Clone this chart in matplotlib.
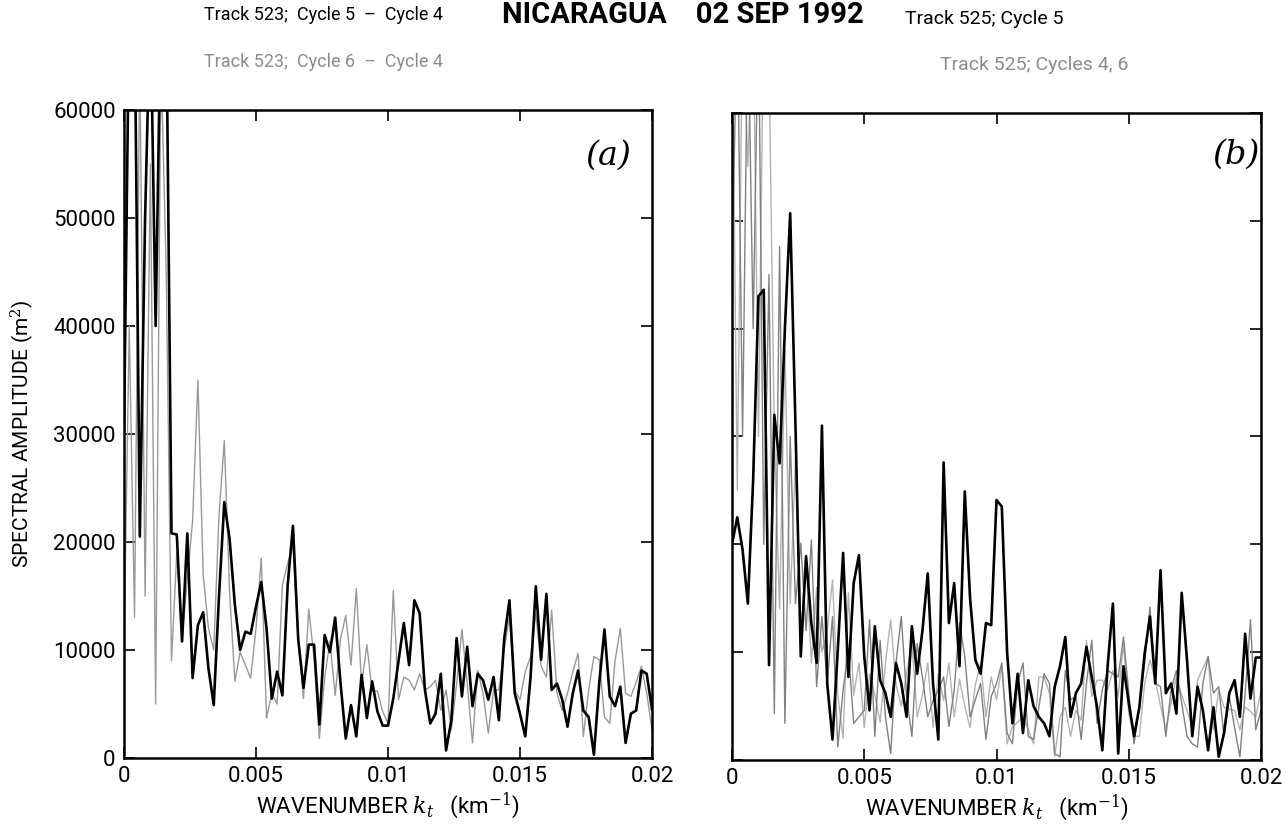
import numpy as np
import matplotlib
matplotlib.use("Agg")
import matplotlib.pyplot as plt
from matplotlib.ticker import FixedLocator

plt.rcParams["font.family"] = ["Roboto", "DejaVu Sans"]
plt.rcParams["mathtext.fontset"] = "dejavuserif"

# wavenumber grid (km^-1), one sample every 0.0002
k = np.arange(101) * 0.0002

# panel (a): Track 523
a_c5_c4 = [30000, 70000, 70000, 20500, 50000, 70000, 40000, 70000, 70000, 20800,
           20700, 10800, 20800, 7400, 12300, 13500, 8300, 4900, 15000, 23700,
           20300, 14200, 10000, 11700, 11500, 14000, 16300, 12000, 5500, 8000,
           5800, 16000, 21500, 11000, 6500, 10500, 10500, 3100, 11400, 9800,
           13000, 7000, 1800, 4900, 2000, 7700, 3700, 7100, 4300, 3000,
           3000, 5500, 9000, 12500, 8600, 14600, 13400, 6300, 3200, 4100,
           7800, 700, 3500, 11100, 5700, 10300, 4800, 7800, 7200, 5400,
           7500, 3500, 11000, 14600, 6000, 4100, 2000, 7500, 15900, 9100,
           15200, 6300, 6900, 5400, 2900, 6000, 8100, 4400, 3800, 300,
           6900, 11900, 5700, 4800, 6600, 1400, 4100, 4400, 8100, 7800,
           4500]
a_c6_c4 = [10000, 40000, 13000, 65000, 15000, 55000, 5000, 65000, 45000, 9000,
           19000, 11000, 16600, 22000, 35000, 17000, 12000, 10000, 22500, 29400,
           15400, 7100, 9800, 8600, 7400, 12000, 18500, 3700, 6000, 5000,
           16000, 18000, 19700, 11000, 5500, 13800, 9200, 1800, 7400, 10800,
           5800, 11000, 13200, 8600, 15700, 6800, 10500, 6200, 6200, 4300,
           3200, 15500, 5400, 7500, 7200, 6300, 7800, 6300, 6600, 7200,
           4400, 6300, 2600, 6900, 11900, 6900, 1400, 8100, 6000, 2300,
           6300, 6300, 10000, 13100, 6300, 5400, 8000, 9400, 13400, 8500,
           7500, 13700, 6000, 4400, 6000, 8000, 9700, 2000, 6300, 9400,
           9100, 3800, 3200, 9000, 12000, 6000, 5700, 7000, 8500, 6000,
           2600]

# panel (b): Track 525
b_c5 = [20000, 22500, 19500, 14500, 26000, 43000, 43600, 8800, 32000, 27500,
        40000, 50700, 31000, 9600, 18900, 12700, 9000, 31000, 7100, 1900,
        10200, 19200, 7700, 16400, 19000, 9600, 4600, 12400, 7400, 6200,
        4000, 9000, 7100, 4000, 12400, 8000, 12000, 17300, 7100, 1900,
        27600, 12700, 16400, 8700, 24900, 15000, 9300, 8000, 12700, 12500,
        24100, 23500, 10000, 3400, 8000, 2500, 7400, 5000, 4000, 3400,
        2200, 6800, 8700, 11400, 4000, 6200, 7100, 10500, 7700, 4900,
        900, 8700, 14500, 600, 8700, 5300, 2200, 4900, 9900, 13300,
        7100, 17600, 6200, 7100, 4300, 15500, 9300, 2200, 6800, 4600,
        900, 4900, 300, 2500, 6200, 7400, 4000, 11700, 5700, 9500,
        9500]
b_c4 = [45000, 70000, 30000, 70000, 40000, 70000, 20000, 45000, 4300, 47600,
        3400, 30000, 14500, 20100, 12000, 20400, 6800, 13300, 7100, 13300,
        1200, 6500, 10200, 3400, 4000, 4600, 13000, 2200, 11100, 4000,
        600, 9000, 13300, 5900, 2200, 10800, 7700, 4000, 5500, 6500,
        7700, 3100, 6500, 12700, 9600, 4000, 5600, 7100, 1900, 5900,
        7100, 9000, 2500, 1500, 7100, 9000, 2200, 1900, 4900, 8000,
        7100, 600, 300, 8300, 5600, 5900, 1900, 7100, 11100, 3400,
        6500, 8300, 8000, 7700, 11400, 6200, 1500, 4900, 9000, 14200,
        7100, 6800, 2200, 6500, 8300, 5300, 2200, 1500, 1200, 7100,
        9600, 6200, 6800, 2200, 5900, 3000, 300, 6200, 13000, 2800,
        4600]
b_c6 = [70000, 25000, 70000, 55000, 70000, 30000, 70000, 65000, 30000, 14000,
        38000, 14500, 28000, 11000, 19000, 9000, 16000, 10000, 12000, 16700,
        6000, 2000, 15500, 6000, 9000, 3000, 8000, 6000, 3500, 9000,
        13000, 7000, 5000, 8000, 11000, 4000, 6000, 9000, 3000, 8000,
        5500, 9000, 4000, 7500, 5000, 3000, 7000, 9000, 4000, 7700,
        5600, 8700, 1500, 3100, 3500, 4000, 2800, 1500, 7700, 7700,
        6200, 300, 4000, 4900, 2200, 4600, 3700, 11100, 5900, 7400,
        7400, 6500, 8300, 5900, 10800, 4300, 2200, 2200, 7100, 9300,
        7400, 5000, 2800, 5300, 7700, 6000, 4600, 3100, 7400, 8500,
        9600, 2800, 6500, 4900, 4700, 4600, 2800, 4900, 4500, 4000,
        6500]

xticks = [0, 0.005, 0.01, 0.015, 0.02]
xticklabels = ["0", "0.005", "0.01", "0.015", "0.02"]
yticks = [0, 10000, 20000, 30000, 40000, 50000, 60000]

fig = plt.figure(figsize=(12.86, 8.35), dpi=100)
ax_a = fig.add_axes([0.0964, 0.0922, 0.4106, 0.776])
ax_b = fig.add_axes([0.5692, 0.0898, 0.4114, 0.775])

ax_a.plot(k, a_c6_c4, color="0.6", lw=1.0)
ax_a.plot(k, a_c5_c4, color="black", lw=1.9)

ax_b.plot(k, b_c6, color="0.7", lw=1.0)
ax_b.plot(k, b_c4, color="0.5", lw=1.0)
ax_b.plot(k, b_c5, color="black", lw=1.9)

for ax in (ax_a, ax_b):
    ax.set_xlim(0, 0.02)
    ax.set_ylim(0, 60000)
    ax.xaxis.set_major_locator(FixedLocator(xticks))
    ax.yaxis.set_major_locator(FixedLocator(yticks))
    ax.tick_params(direction="in", top=True, right=True, length=8, width=1.2,
                   labelsize=16, pad=6)
    for s in ax.spines.values():
        s.set_linewidth(1.8)
    ax.set_xticklabels(xticklabels)
    ax.set_xlabel(r"WAVENUMBER $k_t$   (km$^{-1}$)", fontsize=16, labelpad=2)

ax_a.set_yticklabels([str(v) for v in yticks])
ax_b.set_yticklabels([])
ax_a.set_ylabel(r"SPECTRAL AMPLITUDE (m$^2$)", fontsize=15, labelpad=12)

ax_a.text(0.917, 0.93, "(a)", transform=ax_a.transAxes, fontsize=24,
          family="DejaVu Serif", style="italic", ha="center", va="center")
ax_b.text(0.953, 0.935, "(b)", transform=ax_b.transAxes, fontsize=24,
          family="DejaVu Serif", style="italic", ha="center", va="center")

fig.text(0.159, 0.982, "Track 523;  Cycle 5  –  Cycle 4", fontsize=13, va="center")
fig.text(0.531, 0.982, "NICARAGUA    02 SEP 1992", fontsize=21, weight="bold",
         ha="center", va="center")
fig.text(0.704, 0.977, "Track 525; Cycle 5", fontsize=14, va="center")
fig.text(0.159, 0.926, "Track 523;  Cycle 6  –  Cycle 4", fontsize=13, color="0.55",
         va="center")
fig.text(0.731, 0.922, "Track 525; Cycles 4, 6", fontsize=14, color="0.55", va="center")

fig.savefig("out.png", dpi=100)
